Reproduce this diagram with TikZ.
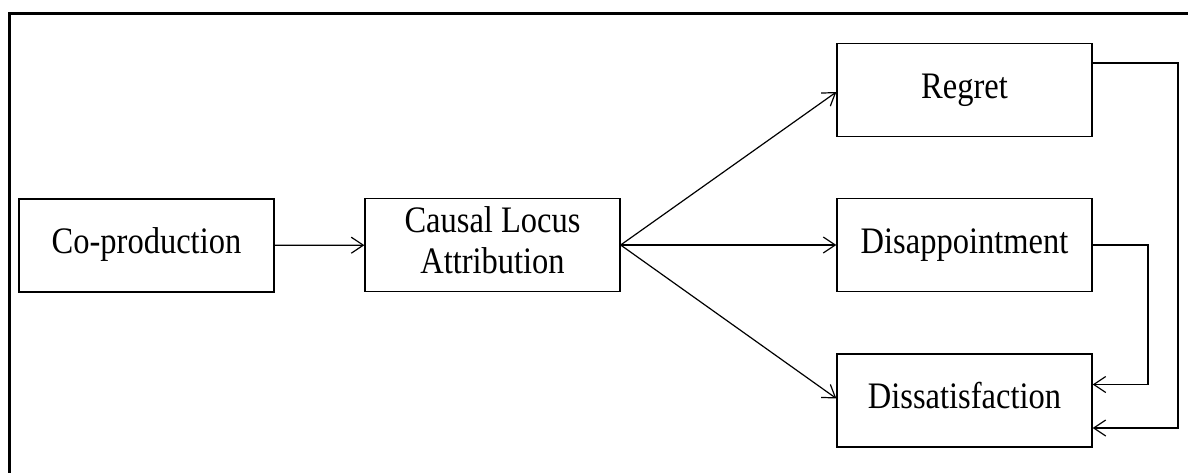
\documentclass[tikz,border=0pt]{standalone}
\usepackage{fontspec}
\usepackage{graphicx}
\setmainfont{Liberation Serif}
\usetikzlibrary{arrows.meta}
\newcommand\vstr[1]{\scalebox{1}[1.15]{\begin{tabular}{@{}c@{}}#1\end{tabular}}}
\begin{document}
\begin{tikzpicture}[x=1pt,y=-1pt,
  box/.style={draw,line width=1.3pt,minimum width=255pt,minimum height=93pt,inner sep=0pt,align=center,font=\fontsize{32.5}{35}\selectfont},
  conn/.style={line width=1.2pt,-{Straight Barb[length=12pt,width=16pt,line width=1.2pt]}}]
\useasboundingbox (0,0) rectangle (1188,472);
\draw[line width=3pt] (9,500) -- (9,13) -- (1200,13);
\node[box] (cop) at (146.5,245.5) {\vstr{Co-production}};
\node[box] (cla) at (492.5,245) {\vstr{Causal Locus\\Attribution}};
\node[box] (reg) at (964.5,90) {\vstr{Regret}};
\node[box] (dis) at (964.5,245) {\vstr{Disappointment}};
\node[box] (dsat) at (964.5,400.5) {\vstr{Dissatisfaction}};
\coordinate (c1) at (1148,245);
\coordinate (c2) at (1178,63);
\draw[conn] (cop) -- (cla);
\draw[conn] (cla.east) -- ([yshift=-2pt]reg.west);
\draw[conn] (cla.east) -- (dis.west);
\draw[conn] (cla.east) -- ([yshift=2pt]dsat.west);
\draw[conn] (dis.east) -- (c1) |- ([yshift=16pt]dsat.east);
\draw[conn] ([yshift=27pt]reg.east) -- (c2) |- ([yshift=-27.5pt]dsat.east);
\end{tikzpicture}
\end{document}
